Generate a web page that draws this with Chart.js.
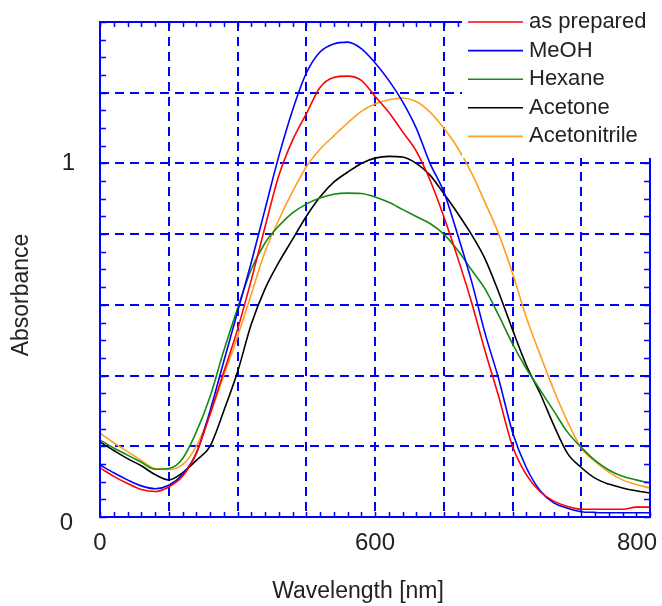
<!DOCTYPE html>
<html>
<head>
<meta charset="utf-8">
<script src="https://cdn.jsdelivr.net/npm/chart.js@4.4.1/dist/chart.umd.min.js"></script>
<style>
  body { margin: 0; background: #fff; }
</style>
</head>
<body>
<canvas id="myChart" width="662" height="606"></canvas>
<script>
// wavelength in nm
var wavelengths = [400, 410, 420, 430, 440, 450, 460, 470, 480, 490,
                   500, 510, 520, 530, 540, 550, 560, 570, 580, 590,
                   600, 610, 620, 630, 640, 650, 660, 670, 680, 690,
                   700, 710, 720, 730, 740, 750, 760, 770, 780, 790, 800];

var asPrepared = [0.139, 0.115, 0.095, 0.078, 0.072, 0.085, 0.115, 0.18, 0.29, 0.41,
                  0.53, 0.67, 0.82, 0.965, 1.065, 1.14, 1.215, 1.243, 1.247, 1.235,
                  1.19, 1.145, 1.09, 1.035, 0.953, 0.85, 0.735, 0.61, 0.47, 0.34,
                  0.20, 0.12, 0.072, 0.045, 0.03, 0.022, 0.022, 0.022, 0.022, 0.028, 0.028];

var meoh = [0.147, 0.125, 0.105, 0.088, 0.08, 0.09, 0.12, 0.18, 0.30, 0.44,
            0.58, 0.72, 0.87, 1.02, 1.15, 1.255, 1.315, 1.338, 1.343, 1.325,
            1.285, 1.235, 1.175, 1.10, 1.0, 0.92, 0.80, 0.67, 0.52, 0.39,
            0.24, 0.14, 0.075, 0.04, 0.025, 0.015, 0.013, 0.012, 0.012, 0.012, 0.012];

var hexane = [0.218, 0.195, 0.175, 0.155, 0.135, 0.137, 0.165, 0.24, 0.34, 0.47,
              0.59, 0.70, 0.775, 0.823, 0.86, 0.885, 0.902, 0.913, 0.916, 0.915,
              0.905, 0.89, 0.87, 0.85, 0.83, 0.80, 0.755, 0.70, 0.645, 0.57,
              0.49, 0.42, 0.36, 0.30, 0.24, 0.197, 0.16, 0.133, 0.115, 0.105, 0.096];

var acetone = [0.212, 0.188, 0.165, 0.145, 0.12, 0.105, 0.125, 0.16, 0.20, 0.30,
               0.41, 0.545, 0.645, 0.72, 0.785, 0.85, 0.905, 0.947, 0.975, 1.0,
               1.015, 1.02, 1.018, 1.0, 0.967, 0.915, 0.86, 0.80, 0.73, 0.635,
               0.53, 0.43, 0.35, 0.26, 0.18, 0.14, 0.11, 0.093, 0.082, 0.074, 0.068];

var acetonitrile = [0.237, 0.21, 0.185, 0.16, 0.137, 0.134, 0.148, 0.20, 0.29, 0.40,
                    0.51, 0.63, 0.75, 0.84, 0.92, 0.99, 1.04, 1.078, 1.114, 1.147,
                    1.168, 1.18, 1.185, 1.175, 1.145, 1.10, 1.045, 0.975, 0.89, 0.80,
                    0.69, 0.565, 0.46, 0.36, 0.27, 0.195, 0.157, 0.127, 0.105, 0.092, 0.082];

var seriesNames = ['as prepared', 'MeOH', 'Hexane', 'Acetone', 'Acetonitrile'];
var seriesColors = ['#ff0000', '#0000ff', '#138a13', '#000000', '#ffa020'];

var xTickValues = [400, 600, 800];
var xTickLabels = ['0', '600', '800'];
var yTickValues = [0, 1];
var yTickLabels = ['0', '1'];

var xTitle = 'Wavelength [nm]';
var yTitle = 'Absorbance';

function points(vals) {
  return wavelengths.map(function (w, i) { return { x: w, y: vals[i] }; });
}

var allSeries = [asPrepared, meoh, hexane, acetone, acetonitrile];
var datasets = allSeries.map(function (vals, i) {
  return {
    label: seriesNames[i],
    data: points(vals),
    borderColor: seriesColors[i],
    borderWidth: 1.6,
    pointRadius: 0,
    cubicInterpolationMode: 'monotone',
    fill: false
  };
});

var blue = '#0000ff';
var font = '"Liberation Sans", Arial, sans-serif';
var textColor = '#222';

// frame, small ticks, legend box and texts
var framePlugin = {
  id: 'frame',
  afterDatasetsDraw: function (chart) {
    var ctx = chart.ctx;
    var a = chart.chartArea;
    var x = chart.scales.x;
    var y = chart.scales.y;
    ctx.save();

    ctx.strokeStyle = blue;
    ctx.lineWidth = 2;
    ctx.strokeRect(a.left, a.top, a.right - a.left, a.bottom - a.top);

    ctx.lineWidth = 1.5;
    ctx.beginPath();
    for (var w = 400; w <= 800; w += 10) {
      var px = Math.round(x.getPixelForValue(w)) + 0.5;
      ctx.moveTo(px, a.bottom); ctx.lineTo(px, a.bottom - 5);
      ctx.moveTo(px, a.top); ctx.lineTo(px, a.top + 5);
    }
    for (var k = 0; k <= 28; k++) {
      var py = Math.round(y.getPixelForValue(k * 0.05)) + 0.5;
      ctx.moveTo(a.left, py); ctx.lineTo(a.left + 6, py);
      ctx.moveTo(a.right, py); ctx.lineTo(a.right - 6, py);
    }
    ctx.stroke();

    // legend on a white box over the top right corner
    ctx.fillStyle = '#fff';
    ctx.fillRect(462, 0, 200, 158);
    ctx.font = '22px ' + font;
    ctx.textBaseline = 'middle';
    ctx.textAlign = 'left';
    for (var i = 0; i < seriesNames.length; i++) {
      var ly = 22 + i * 28.6;
      ctx.strokeStyle = seriesColors[i];
      ctx.lineWidth = 1.6;
      ctx.beginPath();
      ctx.moveTo(468, ly); ctx.lineTo(523, ly);
      ctx.stroke();
      ctx.fillStyle = textColor;
      ctx.fillText(seriesNames[i], 529, ly);
    }

    // tick labels
    ctx.font = '24px ' + font;
    ctx.fillStyle = textColor;
    ctx.textAlign = 'center';
    for (var j = 0; j < xTickValues.length; j++) {
      var tw = ctx.measureText(xTickLabels[j]).width;
      var tx = Math.min(x.getPixelForValue(xTickValues[j]), chart.width - 5 - tw / 2);
      ctx.fillText(xTickLabels[j], tx, a.bottom + 26);
    }
    ctx.textAlign = 'right';
    for (var m = 0; m < yTickValues.length; m++) {
      var ty = y.getPixelForValue(yTickValues[m]);
      if (m === 0) ty += 6;
      ctx.fillText(yTickLabels[m], m === 0 ? 73 : 75, ty);
    }

    // axis titles
    ctx.font = '23px ' + font;
    ctx.textAlign = 'center';
    ctx.fillText(xTitle, 358, 592);
    ctx.translate(22, 295);
    ctx.rotate(-Math.PI / 2);
    ctx.fillText(yTitle, 0, 0);

    ctx.restore();
  }
};

function gridColor(lo, hi) {
  return function (c) {
    var v = c.tick.value;
    if (Math.abs(v - lo) < 1e-6 || Math.abs(v - hi) < 1e-6) return 'rgba(0,0,0,0)';
    return blue;
  };
}

var ctx = document.getElementById('myChart');
var myChart = new Chart(ctx, {
  type: 'line',
  data: { datasets: datasets },
  options: {
    responsive: false,
    animation: false,
    layout: { padding: { top: 22, right: 12, left: 0, bottom: 0 } },
    plugins: {
      legend: { display: false },
      tooltip: { enabled: false }
    },
    scales: {
      x: {
        type: 'linear',
        min: 400,
        max: 800,
        ticks: { display: false, stepSize: 50 },
        grid: { color: gridColor(400, 800), lineWidth: 2, drawTicks: false },
        border: { display: false, dash: [9, 6] },
        afterFit: function (s) { s.height = 89; }
      },
      y: {
        min: 0,
        max: 1.4,
        ticks: { display: false, stepSize: 0.2 },
        grid: { color: gridColor(0, 1.4), lineWidth: 2, drawTicks: false },
        border: { display: false, dash: [9, 6] },
        afterFit: function (s) { s.width = 100; }
      }
    }
  },
  plugins: [framePlugin]
});
</script>
</body>
</html>
